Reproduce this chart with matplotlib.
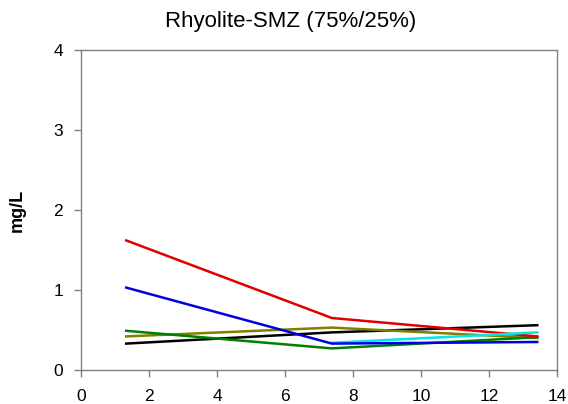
import matplotlib
matplotlib.use("Agg")
import matplotlib.pyplot as plt

plt.rcParams['font.family'] = ['Liberation Sans', 'DejaVu Sans']

# --- dane ---
days = [1.33, 7.38, 13.42]
red = [1.62, 0.65, 0.42]
blue = [1.03, 0.33, 0.35]
cyan_x = [7.38, 13.42]
cyan = [0.34, 0.47]
green = [0.49, 0.27, 0.41]
olive = [0.42, 0.53, 0.40]
black = [0.33, 0.47, 0.56]

fig = plt.figure(figsize=(5.68, 4.04), dpi=100)
ax = fig.add_axes([0.1426, 0.0842, 0.838, 0.7918])

lw = 1.8
ax.plot(days, black, color='black', lw=lw)
ax.plot(days, olive, color='#808000', lw=lw)
ax.plot(days, green, color='#008000', lw=lw)
ax.plot(days, red, color='#e00000', lw=lw)
ax.plot(cyan_x, cyan, color='#00e5ee', lw=lw)
ax.plot(days, blue, color='#0000e0', lw=lw)

ax.set_xlim(0, 14)
ax.set_ylim(0, 4)
ax.set_xticks(range(0, 15, 2))
ax.set_yticks(range(0, 5))
ax.tick_params(direction='out', length=5, color='#808080', labelsize=12.5, width=1)
ax.tick_params(axis='x', pad=9)
ax.tick_params(axis='y', pad=8)
for s in ax.spines.values():
    s.set_color('#808080')
    s.set_linewidth(1)

ax.set_ylabel("mg/L", fontsize=13, fontweight='bold', labelpad=20)
fig.suptitle("Rhyolite-SMZ (75%/25%)", fontsize=16, x=0.512, y=0.972)

fig.savefig("out.png", dpi=100)
